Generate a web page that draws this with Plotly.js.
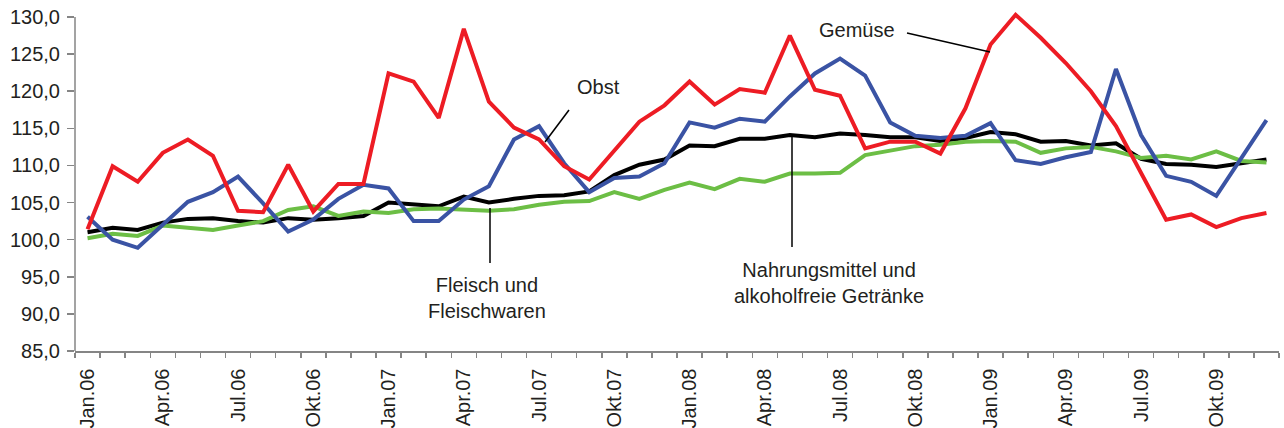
<!DOCTYPE html>
<html>
<head>
<meta charset="utf-8">
<script src="https://cdn.plot.ly/plotly-3.0.1.min.js"></script>
<style>html,body{margin:0;padding:0;background:#fff;}#chart{width:1284px;height:428px;}</style>
</head>
<body>
<div id="chart"></div>
<script>
const monthNames = ["Jan","Feb","Mär","Apr","Mai","Jun","Jul","Aug","Sep","Okt","Nov","Dez"];
const years = ["06","07","08","09"];
const months = [];
years.forEach(y => monthNames.forEach(m => months.push(m + "." + y)));

const gemuese = [
  101.4, 109.9, 107.8, 111.7, 113.5, 111.3, 103.9, 103.7, 110.1, 103.8, 107.5, 107.5,
  122.4, 121.3, 116.4, 128.4, 118.6, 115.1, 113.5, 109.9, 108.1, 112.1, 115.9, 118.1,
  121.3, 118.2, 120.3, 119.8, 127.5, 120.2, 119.4, 112.3, 113.2, 113.2, 111.6, 117.7,
  126.3, 130.3, 127.2, 123.8, 120.0, 115.3, 109.0, 102.7, 103.4, 101.7, 102.9, 103.6
];
const obst = [
  103.1, 100.0, 98.9, 102.0, 105.1, 106.4, 108.5, 104.9, 101.1, 102.7, 105.5, 107.4,
  106.9, 102.5, 102.5, 105.4, 107.2, 113.5, 115.3, 110.3, 106.4, 108.3, 108.5, 110.3,
  115.8, 115.1, 116.3, 115.9, 119.3, 122.4, 124.4, 122.1, 115.8, 114.0, 113.7, 114.0,
  115.7, 110.7, 110.2, 111.1, 111.8, 123.0, 114.1, 108.6, 107.8, 105.9, 111.0, 116.1
];
const nahrungsmittel = [
  101.0, 101.6, 101.3, 102.3, 102.8, 102.9, 102.5, 102.3, 102.9, 102.7, 102.9, 103.2,
  105.0, 104.8, 104.5, 105.8, 105.0, 105.5, 105.9, 106.0, 106.5, 108.7, 110.1, 110.8,
  112.7, 112.6, 113.6, 113.6, 114.1, 113.8, 114.3, 114.1, 113.8, 113.8, 113.3, 113.7,
  114.5, 114.2, 113.2, 113.3, 112.7, 113.0, 110.9, 110.2, 110.1, 109.8, 110.3, 110.8
];
const fleisch = [
  100.2, 100.8, 100.5, 101.9, 101.6, 101.3, 101.9, 102.5, 104.0, 104.5, 103.2, 103.8,
  103.6, 104.1, 104.2, 104.1, 103.9, 104.1, 104.7, 105.1, 105.2, 106.4, 105.5, 106.7,
  107.7, 106.8, 108.2, 107.8, 108.9, 108.9, 109.0, 111.4, 112.0, 112.6, 112.8, 113.2,
  113.3, 113.2, 111.7, 112.3, 112.5, 111.9, 111.0, 111.3, 110.8, 111.9, 110.6, 110.4
];
const tickText = months.map((m, i) => (i % 3 === 0 ? m : ""));
const yMin = 85, yMax = 130;

const FONT = "Liberation Sans, Arial, sans-serif";
const TXT = "#231f20";
const AXIS = "#858585";

function line(y, color, name) {
  return { x: months, y: y, type: "scatter", mode: "lines", name: name,
           line: { color: color, width: 4 }, hoverinfo: "skip" };
}
const data = [
  line(nahrungsmittel, "#000000", "Nahrungsmittel und alkoholfreie Getränke"),
  line(fleisch, "#6cbe45", "Fleisch und Fleischwaren"),
  line(obst, "#3a53a4", "Obst"),
  line(gemuese, "#ed1c24", "Gemüse")
];

// plot area in pixels (130 at y=17, 85 at y=351); a little headroom above 130 so the peak isn't clipped
const L = 75, R = 1279, T = 17, B = 351;
const unit = (B - T) / (yMax - yMin);
const topPad = 8;
const px = x => (x - L) / (R - L);
const py = y => (B - y) / (B - T + topPad);
function lead(x0, y0, x1, y1) {
  return { type: "line", xref: "paper", yref: "paper", x0: px(x0), y0: py(y0), x1: px(x1), y1: py(y1),
           line: { color: "#000", width: 1.5 } };
}
function label(text, x, y) {
  return { text: text, xref: "paper", yref: "paper", x: px(x), y: py(y), xanchor: "center", yanchor: "middle",
           showarrow: false, font: { family: FONT, size: 20, color: TXT }, align: "center" };
}

const layout = {
  width: 1284, height: 428,
  margin: { l: L, r: 1284 - R, t: T - topPad, b: 428 - B, pad: 0 },
  paper_bgcolor: "#fff", plot_bgcolor: "#fff",
  showlegend: false,
  separators: ",.",
  font: { family: FONT, size: 20, color: TXT },
  xaxis: {
    type: "category",
    tickmode: "array", tickvals: months, ticktext: tickText,
    tickson: "boundaries",
    ticks: "outside", ticklen: 5, tickwidth: 1.5, tickcolor: AXIS,
    tickangle: -90, ticklabelstandoff: 8,
    showline: true, linecolor: AXIS, linewidth: 1.5,
    showgrid: false, zeroline: false,
    tickfont: { family: FONT, size: 20, color: TXT },
    range: [-0.5, 47.5], fixedrange: true
  },
  yaxis: {
    range: [yMin, yMax + topPad / unit], tickmode: "linear", tick0: 85, dtick: 5,
    tickformat: ".1f",
    ticks: "outside", ticklen: 7, tickwidth: 1.5, tickcolor: AXIS,
    ticklabelstandoff: 3,
    showline: false,
    showgrid: false, zeroline: false,
    tickfont: { family: FONT, size: 20, color: TXT }
  },
  shapes: [
    { type: "line", xref: "paper", yref: "y", x0: 0, x1: 0, y0: yMin, y1: yMax,
      line: { color: AXIS, width: 1.5 }, layer: "below" },
    lead(569, 110, 545, 142),
    lead(490, 208, 490, 263),
    lead(792, 136, 792, 247),
    lead(907, 33, 990, 52)
  ],
  annotations: [
    label("Obst", 598, 87),
    label("Gemüse", 857, 30),
    label("Fleisch und<br>Fleischwaren", 487, 298),
    label("Nahrungsmittel und<br>alkoholfreie Getränke", 829, 283)
  ]
};

Plotly.newPlot("chart", data, layout, { displayModeBar: false, staticPlot: true });
</script>
</body>
</html>
